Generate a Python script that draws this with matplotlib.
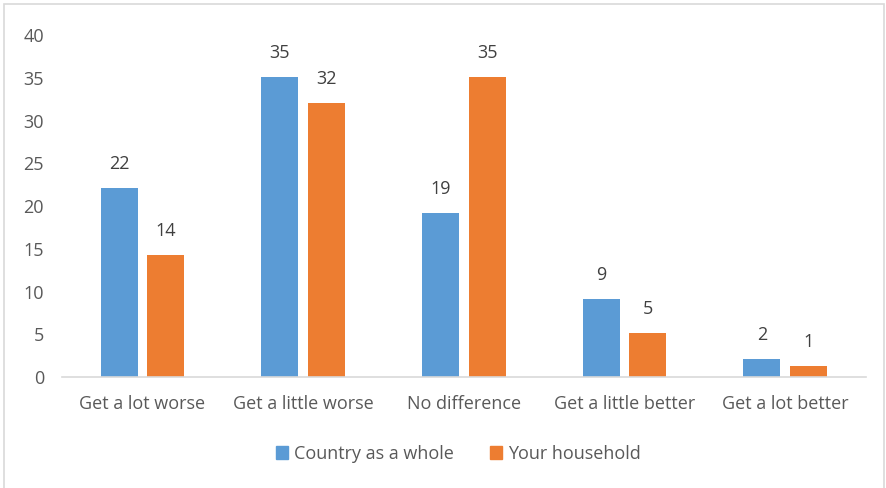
import numpy as np
import matplotlib.pyplot as plt
from matplotlib.patches import Rectangle, Patch

# data
categories = ["Get a lot worse", "Get a little worse", "No difference",
              "Get a little better", "Get a lot better"]
country = [22.1, 35.1, 19.2, 9.1, 2.1]
household = [14.3, 32.1, 35.1, 5.1, 1.3]
series_names = ["Country as a whole", "Your household"]

blue = "#5B9BD5"
orange = "#ED7D31"
txt = "#595959"

plt.rcParams['font.family'] = ['Open Sans', 'DejaVu Sans']

fig = plt.figure(figsize=(8.86, 4.88), dpi=100)
ax = fig.add_axes([0.070, 0.2275, 0.907, 0.7005])

x = np.arange(len(categories))
w = 0.23
off = 0.145
b1 = ax.bar(x - off, country, w, color=blue)
b2 = ax.bar(x + off, household, w, color=orange)

for bars, vals in ((b1, country), (b2, household)):
    for b, v in zip(bars, vals):
        ax.text(b.get_x() + b.get_width() / 2, v + 2.8, "%d" % round(v),
                ha='center', va='center', fontsize=13, color="#404040")

ax.set_xlim(-0.5, len(categories) - 0.5)
ax.set_ylim(0, 40)
ax.set_yticks(range(0, 41, 5))
ax.set_xticks(x)
ax.set_xticklabels(categories)
ax.tick_params(axis='both', length=0, labelsize=13, colors=txt)
ax.tick_params(axis='y', pad=13)
ax.tick_params(axis='x', pad=13)
for s in ['top', 'right', 'left']:
    ax.spines[s].set_visible(False)
ax.spines['bottom'].set_color("#D9D9D9")
ax.spines['bottom'].set_linewidth(1.2)

handles = [Patch(color=blue), Patch(color=orange)]
fig.legend(handles, series_names, loc='center', bbox_to_anchor=(0.517, 0.07),
           ncol=2, frameon=False, fontsize=13, labelcolor=txt,
           handlelength=0.7, handleheight=0.7, handletextpad=0.3,
           columnspacing=2.0)

# chart border
fig.patches.append(Rectangle((4 / 886, -0.05), 880 / 886, 1 - 4 / 488 + 0.05,
                             transform=fig.transFigure, fill=False,
                             edgecolor="#D9D9D9", linewidth=1.2))

fig.savefig("out.png", dpi=100)
